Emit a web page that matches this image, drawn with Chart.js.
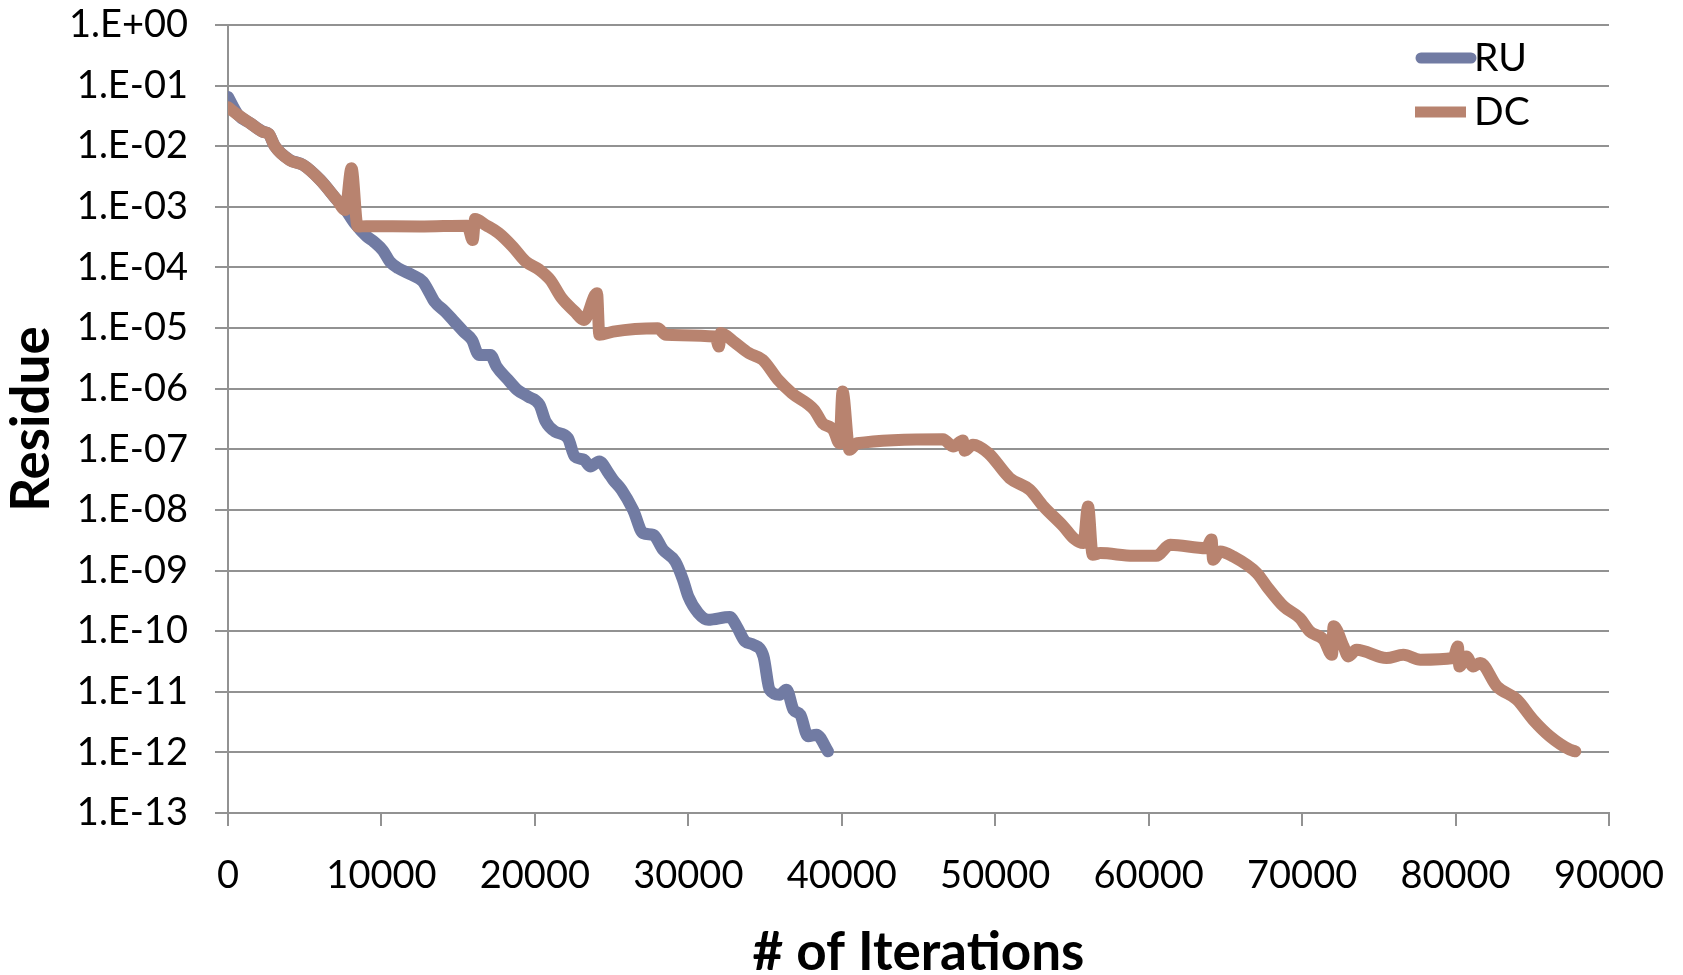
<!DOCTYPE html>
<html>
<head>
<meta charset="utf-8">
<title>Residue vs iterations</title>
<script src="https://cdn.jsdelivr.net/npm/chart.js@4.4.1/dist/chart.umd.min.js"></script>
<style>
    html, body { margin: 0; padding: 0; background: #fff; }
    #wrap { width: 1683px; height: 975px; }
</style>
</head>
<body>
<div id="wrap"><canvas id="residue-chart" width="1683" height="975"></canvas></div>
<script>
// Axis ticks
const xTickValues = [0, 10000, 20000, 30000, 40000, 50000, 60000, 70000, 80000, 90000];
const yTickValues = [1, 1e-1, 1e-2, 1e-3, 1e-4, 1e-5, 1e-6, 1e-7, 1e-8, 1e-9, 1e-10, 1e-11, 1e-12, 1e-13];
const yTickLabels = ['1.E+00', '1.E-01', '1.E-02', '1.E-03', '1.E-04', '1.E-05', '1.E-06',
    '1.E-07', '1.E-08', '1.E-09', '1.E-10', '1.E-11', '1.E-12', '1.E-13'];

// RU series
const ruIter = [
    0, 650, 1450, 2250, 2650, 3050, 4000, 4900, 6000, 7100,
    7650, 8300, 9050, 9500, 10100, 10550, 11100, 12000, 12700, 13150,
    13450, 14150, 14750, 15350, 15900, 16350, 17100, 17500, 18250, 18850,
    19550, 20300, 20700, 21300, 22150, 22600, 23200, 23600, 24200, 24800,
    25100, 25650, 26400, 27050, 27700, 28350, 29150, 29650, 30000, 30650,
    31300, 32700, 33150, 33700, 34250, 34900, 35300, 35950, 36400, 36850,
    37300, 37800, 38350, 39100
];
const ruResidue = [
    6.5e-2, 3.3e-2, 2.4e-2, 1.75e-2, 1.6e-2, 1.0e-2, 6.0e-3, 4.9e-3, 2.8e-3, 1.3e-3,
    9.0e-4, 5.2e-4, 3.24e-4, 2.67e-4, 1.9e-4, 1.25e-4, 9.7e-5, 7.53e-5, 5.85e-5, 3.76e-5,
    2.74e-5, 1.87e-5, 1.28e-5, 8.75e-6, 6.38e-6, 3.61e-6, 3.61e-6, 2.32e-6, 1.40e-6, 9.57e-7,
    7.43e-7, 5.42e-7, 2.88e-7, 1.97e-7, 1.53e-7, 7.6e-8, 6.71e-8, 5.21e-8, 6.31e-8, 4.05e-8,
    3.14e-8, 2.15e-8, 1.0e-8, 4.14e-9, 3.89e-9, 2.2e-9, 1.41e-9, 7.05e-10, 3.73e-10, 1.99e-10,
    1.54e-10, 1.71e-10, 1.20e-10, 6.76e-11, 5.97e-11, 3.83e-11, 1.08e-11, 8.93e-12, 1.08e-11, 5.06e-12,
    4.18e-12, 1.84e-12, 1.96e-12, 1.04e-12
];

// DC series
const dcIter = [
    0, 650, 1450, 2250, 2650, 3050, 4000, 4900, 6000, 7100,
    7650, 8050, 8450, 9000, 12500, 15600, 15950, 16100, 16800, 17650,
    18550, 19400, 20300, 21000, 21750, 22600, 23200, 24050, 24200, 25100,
    28000, 28550, 31750, 32000, 32100, 32950, 33950, 34850, 35850, 36750,
    38200, 38750, 39450, 39850, 40050, 40500, 41000, 46600, 47250, 47900,
    48000, 48550, 49550, 50950, 52250, 53150, 54450, 55100, 55750, 56050,
    56350, 56850, 59000, 60500, 61400, 63750, 64100, 64200, 64650, 65500,
    67050, 67700, 68800, 69850, 70500, 71400, 71950, 72050, 72700, 73000,
    73550, 75500, 76600, 77700, 79850, 80150, 80250, 80700, 81150, 81600,
    82700, 84000, 85050, 86150, 87450, 87800
];
const dcResidue = [
    4.4e-2, 3.28e-2, 2.39e-2, 1.74e-2, 1.6e-2, 1.0e-2, 5.94e-3, 4.9e-3, 2.78e-3, 1.3e-3,
    8.9e-4, 4.34e-3, 4.72e-4, 4.8e-4, 4.75e-4, 4.9e-4, 2.84e-4, 6.3e-4, 5.0e-4, 3.67e-4,
    2.21e-4, 1.25e-4, 9.12e-5, 6.24e-5, 3.11e-5, 1.87e-5, 1.36e-5, 3.76e-5, 7.73e-6, 8.75e-6,
    9.95e-6, 7.73e-6, 7.24e-6, 4.95e-6, 8.32e-6, 6.0e-6, 3.85e-6, 2.99e-6, 1.4e-6, 8.43e-7,
    4.48e-7, 2.7e-7, 2.09e-7, 1.26e-7, 8.97e-7, 9.79e-8, 1.26e-7, 1.47e-7, 1.11e-7, 1.4e-7,
    9.5e-8, 1.19e-7, 8.65e-8, 3.34e-8, 2.15e-8, 1.14e-8, 5.33e-9, 3.43e-9, 2.84e-9, 1.14e-8,
    1.82e-9, 1.94e-9, 1.75e-9, 1.75e-9, 2.66e-9, 2.34e-9, 3.24e-9, 1.51e-9, 2.07e-9, 1.71e-9,
    9.08e-10, 5.47e-10, 2.56e-10, 1.64e-10, 9.9e-11, 7.21e-11, 4.08e-11, 1.2e-10, 5.6e-11, 3.83e-11,
    4.93e-11, 3.6e-11, 4.08e-11, 3.37e-11, 3.6e-11, 5.6e-11, 2.62e-11, 3.83e-11, 2.62e-11, 2.98e-11,
    1.22e-11, 7.4e-12, 3.46e-12, 1.84e-12, 1.11e-12, 1.04e-12
];

const ruColor = '#717ba3';
const dcColor = '#b8836f';
const gridColor = '#929292';

function toPoints(xs, ys) {
    return xs.map((x, i) => ({ x: x, y: ys[i] }));
}

// Legend drawn inside the plot, top right (like the original)
const insideLegend = {
    id: 'insideLegend',
    afterDraw(chart) {
        const ctx = chart.ctx;
        const area = chart.chartArea;
        ctx.save();
        ctx.font = '39px Lato, "Open Sans", sans-serif';
        ctx.textBaseline = 'middle';
        ctx.textAlign = 'left';
        chart.data.datasets.forEach((ds, i) => {
            const y = area.top + 33 + i * 54;
            const x0 = area.right - 194;
            ctx.strokeStyle = ds.borderColor;
            ctx.lineWidth = 11;
            ctx.lineCap = i === 0 ? 'round' : 'butt';
            ctx.beginPath();
            if (i === 0) {
                ctx.moveTo(x0 + 6, y);
                ctx.lineTo(x0 + 56, y);
            } else {
                ctx.moveTo(x0, y);
                ctx.lineTo(x0 + 51, y);
            }
            ctx.stroke();
            ctx.fillStyle = '#000';
            ctx.fillText(ds.label, x0 + 59, y);
        });
        ctx.restore();
    }
};

Chart.defaults.font.family = 'Lato, "Open Sans", sans-serif';
Chart.defaults.color = '#000';

const ctx = document.getElementById('residue-chart').getContext('2d');
window.residueChart = new Chart(ctx, {
    type: 'line',
    data: {
        datasets: [{
            label: 'RU',
            data: toPoints(ruIter, ruResidue),
            borderColor: ruColor,
            backgroundColor: ruColor,
            order: 1
        }, {
            label: 'DC',
            data: toPoints(dcIter, dcResidue),
            borderColor: dcColor,
            backgroundColor: dcColor,
            order: 0
        }]
    },
    options: {
        responsive: false,
        animation: false,
        layout: {
            padding: { left: 0, right: 74, top: 25, bottom: 0 }
        },
        elements: {
            point: { radius: 0, hoverRadius: 0 },
            line: {
                borderWidth: 12,
                cubicInterpolationMode: 'monotone',
                fill: false,
                borderJoinStyle: 'round',
                borderCapStyle: 'round'
            }
        },
        plugins: {
            legend: { display: false },
            tooltip: { enabled: false }
        },
        scales: {
            x: {
                type: 'linear',
                min: 0,
                max: 90000,
                afterBuildTicks: axis => {
                    axis.ticks = xTickValues.map(v => ({ value: v }));
                },
                afterFit: axis => {
                    // fixed height, and no extra room for the end labels
                    axis.height = 162;
                    axis.paddingLeft = 0;
                    axis.paddingRight = 0;
                },
                ticks: {
                    autoSkip: false,
                    maxRotation: 0,
                    padding: 27,
                    font: { size: 38 },
                    callback: value => String(value)
                },
                grid: {
                    drawOnChartArea: false,
                    tickLength: 13,
                    color: gridColor,
                    lineWidth: 2
                },
                border: { color: gridColor, width: 2 },
                title: {
                    display: true,
                    text: '# of Iterations',
                    font: { size: 53, weight: 'bold', lineHeight: 0.85 },
                    padding: { top: 0, bottom: 0 }
                }
            },
            y: {
                type: 'logarithmic',
                min: 1e-13,
                max: 1,
                afterBuildTicks: axis => {
                    axis.ticks = yTickValues.map(v => ({ value: v }));
                },
                afterFit: axis => {
                    axis.width = 228;
                    axis.paddingTop = 0;
                    axis.paddingBottom = 0;
                },
                ticks: {
                    autoSkip: false,
                    padding: 27,
                    font: { size: 38 },
                    callback: value => yTickLabels[yTickValues.indexOf(value)]
                },
                grid: {
                    tickLength: 13,
                    color: gridColor,
                    lineWidth: 2
                },
                border: { color: gridColor, width: 2 },
                title: {
                    display: true,
                    text: 'Residue',
                    font: { size: 53, weight: 'bold' },
                    padding: { top: 0, bottom: 0 }
                }
            }
        }
    },
    plugins: [insideLegend]
});
</script>
</body>
</html>
